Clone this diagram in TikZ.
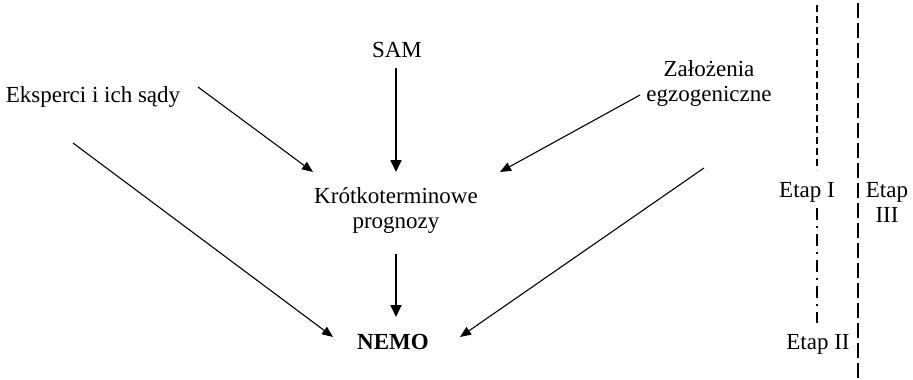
\documentclass[tikz,border=0pt]{standalone}
\usepackage{fontspec}
\setmainfont{Liberation Serif}
\usetikzlibrary{arrows.meta}
\begin{document}
\begin{tikzpicture}[x=1pt,y=-1pt,
  lbl/.style={font=\fontsize{23}{25}\selectfont, inner sep=0pt, anchor=base, align=center},
  bigarrow/.style={line width=1.8pt, -{Triangle[width=11pt,length=12pt]}},
  slimarrow/.style={line width=1.1pt, -{Triangle[width=9pt,length=11pt]}},
  shortdash/.style={line width=1.3pt, dash pattern=on 7pt off 4pt},
  dashdot/.style={line width=1.3pt, dash pattern=on 12pt off 6pt on 2pt off 6pt},
  longdash/.style={line width=2pt, dash pattern=on 15pt off 5pt},
]
\useasboundingbox (0,0) rectangle (913,380);

% texts (two-line nodes: base = baseline of last line)
\node[lbl] (sam) at (397,57) {SAM};
\node[lbl] (eksp) at (93,102) {Eksperci i ich sądy};
\node[lbl] (zal) at (709,101) {Założenia\\egzogeniczne};
\node[lbl] (krot) at (396,228) {Krótkoterminowe\\prognozy};
\node[lbl,font=\fontsize{23}{25}\selectfont\bfseries] (nemo) at (393,349) {NEMO};
\node[lbl] (etap1) at (807,197) {Etap I};
\node[lbl] (etap2) at (818,349) {Etap II};
\node[lbl] (etap3) at (887,222) {Etap\\III};

% arrow end points
\coordinate (a1s) at (396,68);  \coordinate (a1e) at (396,172);
\coordinate (a2s) at (396,254); \coordinate (a2e) at (396,317);
\coordinate (a3s) at (198,87);  \coordinate (a3e) at (313,172);
\coordinate (a4s) at (73,143);  \coordinate (a4e) at (333,337);
\coordinate (a5s) at (640,95);  \coordinate (a5e) at (500,172);
\coordinate (a6s) at (704,168); \coordinate (a6e) at (460,337);

\draw[bigarrow] (a1s) -- (a1e);
\draw[bigarrow] (a2s) -- (a2e);
\draw[slimarrow] (a3s) -- (a3e);
\draw[slimarrow] (a4s) -- (a4e);
\draw[slimarrow] (a5s) -- (a5e);
\draw[slimarrow] (a6s) -- (a6e);

% stage lines
\coordinate (l1s) at (817,5);   \coordinate (l1e) at (817,170);
\coordinate (l2s) at (817,208); \coordinate (l2e) at (817,323);
\coordinate (l3s) at (858,3);   \coordinate (l3e) at (858,378);
\draw[shortdash] (l1s) -- (l1e);
\draw[dashdot] (l2s) -- (l2e);
\draw[longdash] (l3s) -- (l3e);
\end{tikzpicture}
\end{document}
